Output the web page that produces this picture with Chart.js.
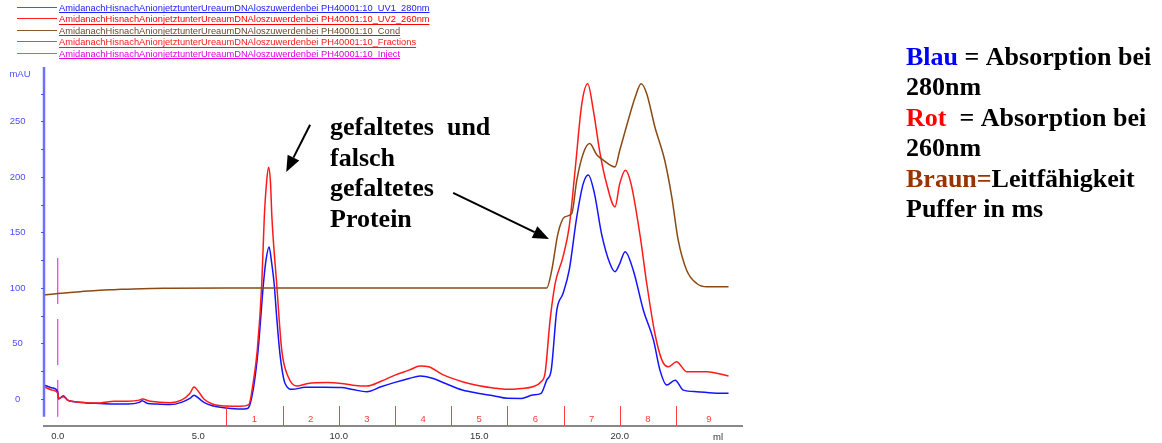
<!DOCTYPE html>
<html>
<head>
<meta charset="utf-8">
<script src="https://cdn.jsdelivr.net/npm/chart.js@4/dist/chart.umd.min.js"></script>
<style>
  html, body { margin: 0; padding: 0; background: #fff; overflow: hidden; }
  #wrap { position: relative; width: 1162px; height: 443px; }
</style>
</head>
<body>
<div id="wrap"><canvas id="chrom" width="1162" height="443"></canvas></div>
<script>
// Run name shown in the trace list
const runName = 'AmidanachHisnachAnionjetztunterUreaumDNAloszuwerdenbei PH40001:10';
const traceSuffixes = ['_UV1_280nm', '_UV2_260nm', '_Cond', '_Fractions', '_Inject'];

// UV 280 nm trace (ml, mAU)
const ml280 = [-0.49, -0.2, 0.0, 0.03, 0.2, 0.35, 0.6, 1.0, 1.5, 2.0, 2.5, 2.9, 3.0, 3.2, 3.5, 4.0, 4.4, 4.7, 4.85, 5.0,
  5.2, 5.5, 6.0, 6.5, 6.75, 6.85, 6.99, 7.13, 7.32, 7.41, 7.52, 7.6, 7.70, 7.79, 7.91, 8.09, 8.35, 8.8, 9.5, 10.1,
  10.5, 11.0, 11.5, 12.0, 12.5, 12.9, 13.3, 13.8, 14.4, 15.0, 15.5, 16.0, 16.5, 16.9, 17.2, 17.4, 17.56, 17.76, 17.98, 18.2,
  18.47, 18.7, 18.88, 19.1, 19.35, 19.65, 19.83, 20.0, 20.19, 20.48, 20.84, 21.2, 21.43, 21.67, 21.97, 22.26, 22.74, 23.3, 23.87];
const uv280 = [12.6, 10, 6.5, 0, 3, -1, -2.5, -3.5, -4, -4.5, -4.5, -3, -1.5, -4, -4.5, -5, -3, 0.5, 3.5, 1,
  -3, -6, -8, -9, -8.5, -4, 14, 44, 104, 125, 137, 125, 104, 74, 40, 14, 8.7, 10.5, 10.5, 10.3,
  8.5, 6.6, 11, 15, 18.5, 20.7, 19, 14, 8.1, 5, 3, 0.6, 0.5, 3.6, 5.1, 17, 26, 80, 95, 116,
  164, 194, 201.8, 185, 149, 122, 114.7, 122, 132.7, 116, 80, 53, 26, 12.6, 17, 8, 6.6, 5.5, 5.1];

// UV 260 nm trace (ml, mAU)
const ml260 = [-0.49, -0.2, 0.0, 0.03, 0.2, 0.35, 0.6, 1.0, 1.5, 2.0, 2.5, 2.9, 3.0, 3.3, 4.0, 4.4, 4.7, 4.85, 5.0, 5.2,
  5.5, 6.0, 6.5, 6.8, 6.95, 7.10, 7.26, 7.35, 7.43, 7.5, 7.57, 7.62, 7.79, 7.97, 8.2, 8.5, 8.9, 9.6, 10.1, 10.5,
  11.0, 11.5, 12.0, 12.5, 12.9, 13.2, 13.7, 14.4, 15.0, 15.5, 16.0, 16.5, 16.9, 17.2, 17.34, 17.52, 17.7, 17.98, 18.2, 18.41,
  18.65, 18.86, 19.06, 19.3, 19.53, 19.83, 20.0, 20.2, 20.4, 20.73, 20.96, 21.25, 21.5, 21.73, 22.02, 22.38, 23.1, 23.87];
const uv260 = [11, 8, 5.4, 0.5, 2, -1, -2.5, -3.3, -3.5, -2, -2, -1, 0, -2, -3.3, -1, 5, 10.8, 7, 0,
  -4.5, -6.3, -6.5, -5, 14, 44, 104, 164, 195, 208.7, 195, 164, 104, 44, 20, 11.7, 14, 14.8, 14, 12.5,
  11.7, 16, 21.5, 26, 29.7, 29, 22, 15.6, 12, 10, 8.7, 9.5, 11, 15.6, 23, 71, 104, 128, 155, 206,
  266, 284, 260, 221, 194, 173, 194, 206, 194, 146, 104, 59, 35, 29, 33.6, 24.6, 24.6, 20.7];

// Conductivity trace (ml, mS/cm)
const mlCond = [-0.49, 0.0, 0.8, 1.5, 2.0, 3.0, 4.0, 6.0, 17.4, 17.58, 17.8, 18.04, 18.29, 18.47, 18.7, 18.93, 19.18, 19.42, 19.83, 20.0,
  20.3, 20.55, 20.76, 20.96, 21.25, 21.6, 21.85, 22.08, 22.38, 22.74, 23.1, 23.87];
const cond = [93.7, 95, 96.7, 98, 98.5, 99.4, 99.7, 100, 100, 116, 149, 164, 167, 197, 221, 230, 220, 215, 209, 224,
  251, 272, 284, 275, 245, 215, 182, 143, 116, 104, 101, 101];

// Injection mark (ml) and fraction boundaries (ml)
const injectMl = 0.0;
const injectSpan = [127, -16];
const fractionMl = [6, 8, 10, 12, 14, 16, 18, 20, 22];
const fractionLabels = ['1', '2', '3', '4', '5', '6', '7', '8', '9'];

// Axis ticks
const xTickStep = 5;
const yTickStep = 25;
const yLabelStep = 50;

const toPoints = (xs, ys) => xs.map((x, i) => ({ x: x, y: ys[i] }));

const COL_280 = '#1414ff';
const COL_260 = '#ff1a1a';
const COL_COND = '#8b4a14';
const COL_INJ = '#ff00ff';
const AXIS_BLUE = '#5050ff';
const SANS = '"Liberation Sans", Arial, sans-serif';
const SERIF = '"Liberation Serif", "Times New Roman", serif';

const decor = {
  id: 'decor',
  afterDraw(chart) {
    const ctx = chart.ctx;
    const xs = chart.scales.x, ys = chart.scales.y;
    const area = chart.chartArea;
    ctx.save();

    // y axis spine and its short tick marks
    ctx.strokeStyle = '#7070ff';
    ctx.lineWidth = 2.5;
    ctx.beginPath();
    ctx.moveTo(area.left, area.top);
    ctx.lineTo(area.left, ys.getPixelForValue(-16));
    ctx.stroke();
    ctx.strokeStyle = AXIS_BLUE;
    ctx.lineWidth = 1;
    ys.ticks.forEach(t => {
      const py = Math.round(ys.getPixelForValue(t.value)) + 0.5;
      ctx.beginPath();
      ctx.moveTo(area.left - 3, py);
      ctx.lineTo(area.left, py);
      ctx.stroke();
    });

    // axis units
    ctx.font = '9.5px ' + SANS;
    ctx.fillStyle = '#4d4dff';
    ctx.textAlign = 'center';
    ctx.textBaseline = 'middle';
    ctx.fillText('mAU', 20, 74);
    ctx.fillStyle = '#333';
    ctx.fillText('ml', 718, 437);

    // fraction marks
    ctx.strokeStyle = '#ff3b3b';
    ctx.lineWidth = 1;
    ctx.fillStyle = '#ff3b3b';
    fractionMl.forEach((f, i) => {
      const px = Math.round(xs.getPixelForValue(f)) + 0.5;
      ctx.beginPath();
      ctx.moveTo(px, area.bottom - 20);
      ctx.lineTo(px, area.bottom);
      ctx.stroke();
      const next = i + 1 < fractionMl.length ? fractionMl[i + 1] : xs.max;
      ctx.fillText(fractionLabels[i], xs.getPixelForValue((f + next) / 2), area.bottom - 7);
    });

    // trace list
    const legendLine = ['#5050ff', '#ff2020', '#8b5a2b', '#ff4040', '#ff30ff'];
    const legendText = ['#2020ff', '#ff0000', '#6b4a2a', '#ff1a1a', '#e000e0'];
    ctx.font = '9.3px ' + SANS;
    ctx.textAlign = 'left';
    ctx.textBaseline = 'alphabetic';
    traceSuffixes.forEach((s, i) => {
      const ly = 6.7 + i * 11.5;
      ctx.strokeStyle = legendLine[i];
      ctx.lineWidth = 1;
      ctx.beginPath();
      ctx.moveTo(17, Math.round(ly) + 0.5);
      ctx.lineTo(57, Math.round(ly) + 0.5);
      ctx.stroke();
      const txt = runName + s;
      const base = ly + 4;
      ctx.fillStyle = legendText[i];
      ctx.fillText(txt, 59, base);
      const w = ctx.measureText(txt).width;
      ctx.strokeStyle = legendText[i];
      ctx.beginPath();
      ctx.moveTo(59, Math.round(base + 1.5) + 0.5);
      ctx.lineTo(59 + w, Math.round(base + 1.5) + 0.5);
      ctx.stroke();
    });

    // arrows pointing at the protein peaks
    const arrow = (x0, y0, x1, y1) => {
      const ax = xs.getPixelForValue(x0), ay = ys.getPixelForValue(y0);
      const bx = xs.getPixelForValue(x1), by = ys.getPixelForValue(y1);
      const ang = Math.atan2(by - ay, bx - ax);
      const len = 16, half = 6.5;
      const cx = bx - len * Math.cos(ang), cy = by - len * Math.sin(ang);
      ctx.strokeStyle = '#000';
      ctx.lineWidth = 2;
      ctx.beginPath();
      ctx.moveTo(ax, ay);
      ctx.lineTo(cx, cy);
      ctx.stroke();
      ctx.fillStyle = '#000';
      ctx.beginPath();
      ctx.moveTo(bx, by);
      ctx.lineTo(cx + half * Math.sin(ang), cy - half * Math.cos(ang));
      ctx.lineTo(cx - half * Math.sin(ang), cy + half * Math.cos(ang));
      ctx.closePath();
      ctx.fill();
    };
    arrow(8.98, 247, 8.13, 204.5);
    arrow(14.07, 185.6, 17.48, 144);

    // annotation text
    ctx.font = 'bold 26px ' + SERIF;
    ctx.fillStyle = '#000';
    const peakNote = ['gefaltetes  und', 'falsch', 'gefaltetes', 'Protein'];
    peakNote.forEach((t, i) => ctx.fillText(t, 330, 135 + i * 30.7));

    const key = [
      [['Blau', '#0000ff'], [' = Absorption bei', '#000']],
      [['280nm', '#000']],
      [['Rot', '#ff0000'], ['  = Absorption bei', '#000']],
      [['260nm', '#000']],
      [['Braun=', '#993300'], ['Leitfähigkeit', '#000']],
      [['Puffer in ms', '#000']]
    ];
    key.forEach((parts, i) => {
      let x = 906;
      const y = 65 + i * 30.4;
      parts.forEach(([t, c]) => {
        ctx.fillStyle = c;
        ctx.fillText(t, x, y);
        x += ctx.measureText(t).width;
      });
    });
    ctx.restore();
  }
};

new Chart(document.getElementById('chrom'), {
  type: 'line',
  data: {
    datasets: [
      { label: runName + traceSuffixes[2], data: toPoints(mlCond, cond), borderColor: COL_COND, borderWidth: 1.5 },
      { label: runName + traceSuffixes[1], data: toPoints(ml260, uv260), borderColor: COL_260, borderWidth: 1.5 },
      { label: runName + traceSuffixes[0], data: toPoints(ml280, uv280), borderColor: COL_280, borderWidth: 1.5 },
      { label: runName + traceSuffixes[4], data: injectSpan.map(v => ({ x: injectMl, y: v })), borderColor: COL_INJ,
        borderWidth: 1, borderDash: [46, 15], cubicInterpolationMode: 'default', tension: 0 }
    ]
  },
  options: {
    responsive: false,
    animation: false,
    devicePixelRatio: 1,
    elements: { point: { radius: 0 }, line: { fill: false, cubicInterpolationMode: 'monotone' } },
    layout: { padding: { top: 67, right: 420, left: 0, bottom: 0 } },
    plugins: { legend: { display: false }, tooltip: { enabled: false } },
    scales: {
      x: {
        type: 'linear', min: -0.49, max: 24.35,
        afterFit(s) { s.height = 17; },
        grid: { display: false, drawTicks: false },
        border: { display: true, color: '#888', width: 2 },
        ticks: {
          stepSize: xTickStep, includeBounds: false, autoSkip: false, maxRotation: 0,
          padding: 4.5, color: '#333', font: { size: 9.5, family: SANS },
          callback: v => (Math.abs(v % xTickStep) < 1e-6 ? v.toFixed(1) : '')
        }
      },
      y: {
        type: 'linear', min: -24.3, max: 299,
        afterFit(s) { s.width = 44; },
        border: { display: false },
        grid: { drawOnChartArea: false, drawTicks: true, tickLength: 8, tickColor: 'rgba(0,0,0,0)' },
        ticks: {
          stepSize: yTickStep, includeBounds: false, crossAlign: 'center', padding: 10.5,
          color: '#4d4dff', font: { size: 9.5, family: SANS },
          callback: v => (Math.abs(v % yLabelStep) < 1e-6 ? String(v) : '')
        }
      }
    }
  },
  plugins: [decor]
});
</script>
</body>
</html>
